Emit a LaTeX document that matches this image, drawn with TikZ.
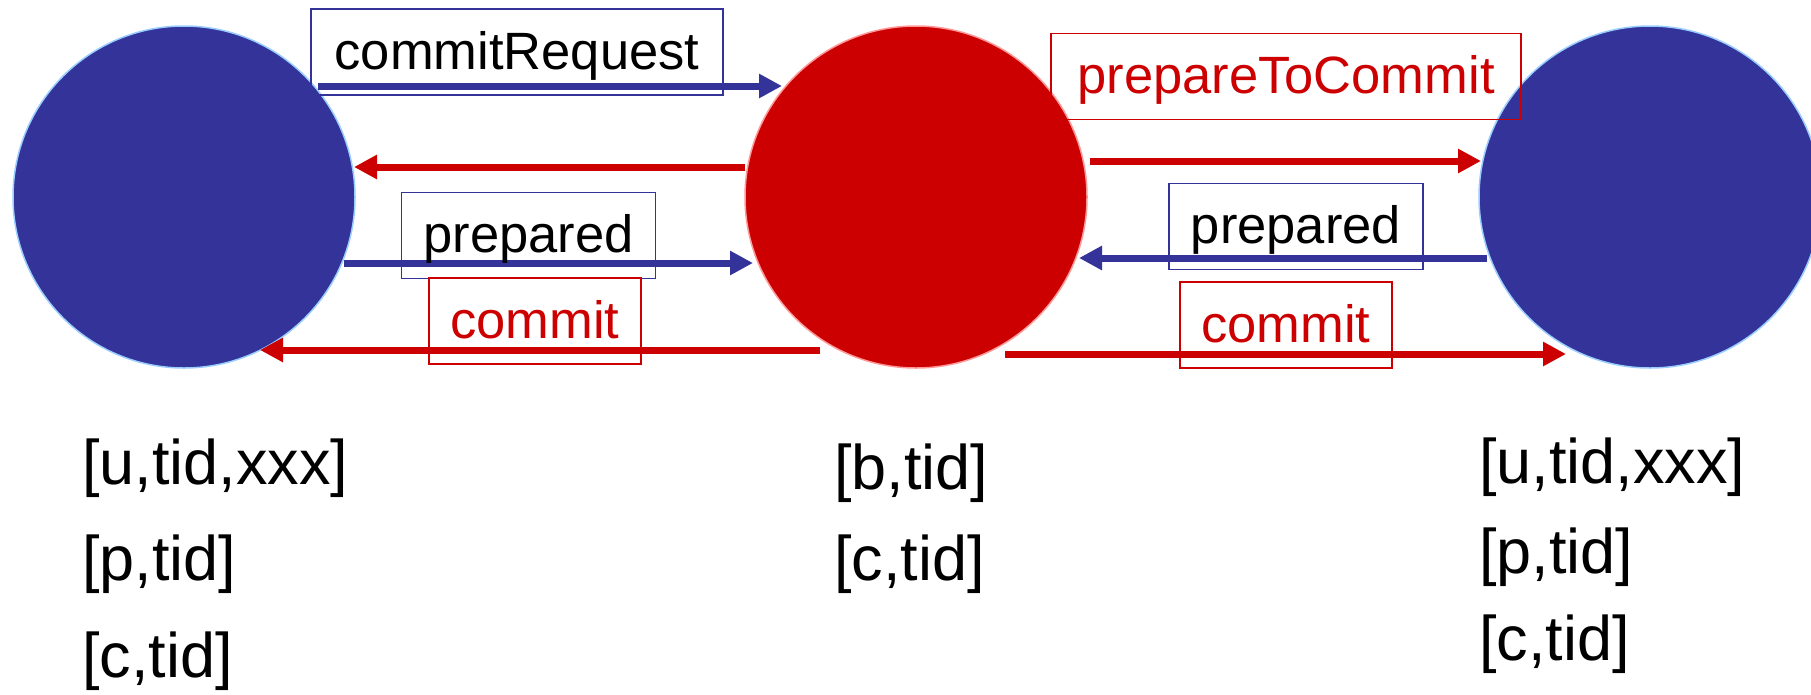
\documentclass[tikz,border=0pt]{standalone}
\usepackage{fontspec}
\setmainfont{Liberation Sans}
\usetikzlibrary{arrows.meta}
\definecolor{nblue}{HTML}{333399}
\definecolor{nred}{HTML}{CC0000}
\definecolor{lblue}{HTML}{99CCFF}
\definecolor{lred}{HTML}{FF9999}
\begin{document}
\begin{tikzpicture}[x=1pt,y=-1pt,
  site/.style={circle, inner sep=0pt, minimum size=342pt, line width=1.5pt},
  msg/.style={line width=7pt, -{Triangle[length=23pt,width=23pt]}},
  lbl/.style={draw, line width=1.5pt, inner sep=0pt, minimum height=86pt,
    text height=34pt, text depth=0pt, font=\fontsize{52.5}{60}\selectfont},
  logtxt/.style={anchor=base west, inner sep=0pt, font=\fontsize{63}{72}\selectfont}]
\useasboundingbox (0,0) rectangle (1811,694);

% sites
\node[site, fill=nblue, draw=lblue] (P1) at (184,197) {};
\node[site, fill=nred, draw=lred] (C) at (916,197) {};
\node[site, fill=nblue, draw=lblue] (P2) at (1650,197) {};

% connector end points
\coordinate (m1s) at (318,86);   \coordinate (m1e) at (782,86);
\coordinate (m2s) at (745,167);  \coordinate (m2e) at (354,167);
\coordinate (m3s) at (344,263);  \coordinate (m3e) at (753,263);
\coordinate (m4s) at (820,350);  \coordinate (m4e) at (260,350);
\coordinate (m5s) at (1090,161); \coordinate (m5e) at (1481,161);
\coordinate (m6s) at (1487,258); \coordinate (m6e) at (1079,258);
\coordinate (m7s) at (1005,354); \coordinate (m7e) at (1566,354);

% messages
\draw[msg, nblue] (m1s) -- (m1e);
\draw[msg, nred]  (m2s) -- (m2e);
\draw[msg, nblue] (m3s) -- (m3e);
\draw[msg, nred]  (m4s) -- (m4e);
\draw[msg, nred]  (m5s) -- (m5e);
\draw[msg, nblue] (m6s) -- (m6e);
\draw[msg, nred]  (m7s) -- (m7e);

% labels
\node[lbl, draw=nblue, text=black, minimum width=412pt] (l1) at (517,52) {commitRequest};
\node[lbl, draw=nblue, text=black, minimum width=254pt] (l3) at (528.5,235.5) {prepared};
\node[lbl, draw=nred, text=nred, minimum width=212pt] (l4) at (535,321) {commit};
\node[lbl, draw=nred, text=nred, minimum width=470pt] (l5) at (1286,76.5) {prepareToCommit};
\node[lbl, draw=nblue, text=black, minimum width=254pt] (l6) at (1296,226.5) {prepared};
\node[lbl, draw=nred, text=nred, minimum width=212pt] (l7) at (1286,325) {commit};

% logs
\node[logtxt] (a1) at (82,484) {[u,tid,xxx]};
\node[logtxt] (a2) at (82,580) {[p,tid]};
\node[logtxt] (a3) at (82,677) {[c,tid]};
\node[logtxt] (b1) at (834,489) {[b,tid]};
\node[logtxt] (b2) at (834,580) {[c,tid]};
\node[logtxt] (c1) at (1479,483) {[u,tid,xxx]};
\node[logtxt] (c2) at (1479,573) {[p,tid]};
\node[logtxt] (c3) at (1479,660) {[c,tid]};
\end{tikzpicture}
\end{document}
